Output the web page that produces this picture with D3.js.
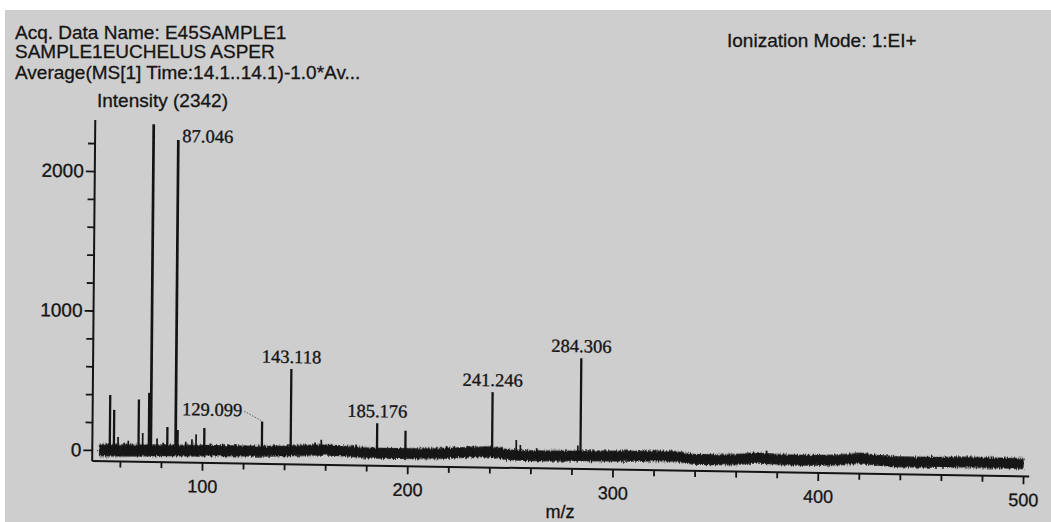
<!DOCTYPE html>
<html>
<head>
<meta charset="utf-8">
<script src="https://cdn.jsdelivr.net/npm/d3@7"></script>
<style>
  html, body { margin: 0; padding: 0; background: #ffffff; }
  svg { display: block; }
</style>
</head>
<body>
<svg id="chart" width="1051" height="522"></svg>
<script>
// ---- Text content ----
const headerLines = [
  "Acq. Data Name: E45SAMPLE1",
  "SAMPLE1EUCHELUS ASPER",
  "Average(MS[1] Time:14.1..14.1)-1.0*Av..."
];
const modeText = "Ionization Mode: 1:EI+";
const intensityTitle = "Intensity (2342)";
const xTitle = "m/z";

// ---- Centroided peaks: m/z and intensity ----
const peakMz = [55, 57, 59, 62, 64, 66, 69, 71, 74, 75, 78, 81, 83, 87.046, 88, 92, 95, 97, 101, 104, 107, 110,
  113, 116, 121, 129.099, 135, 143.118, 147, 155, 158, 165, 175, 183, 185.176, 199, 213, 219, 226, 232, 238,
  241.246, 253, 255, 263, 283, 284.306, 301, 375, 421];
const peakIntensity = [396, 290, 96, 55, 70, 50, 368, 128, 416, 2342, 90, 60, 174, 2232, 154, 70, 88, 124, 170, 60, 50, 60,
  55, 60, 50, 224, 60, 604, 55, 80, 100, 60, 70, 55, 225, 175, 50, 70, 55, 75, 70,
  462, 122, 86, 65, 90, 715, 55, 75, 70];

// Peaks carrying an m/z annotation
const labelMz = [87.046, 129.099, 143.118, 185.176, 241.246, 284.306];

// ---- Baseline noise band: centre level and half-spread every 10 m/z ----
const baseMz = [50, 60, 70, 80, 90, 100, 110, 120, 130, 140, 150, 160, 170, 180, 190, 200, 210, 220, 230, 240,
  250, 260, 270, 280, 290, 300, 310, 320, 330, 340, 350, 360, 370, 380, 390, 400, 410, 420, 430, 440, 450,
  460, 470, 480, 490, 500];
const baseMid = [0, 0, 3, 5, 6, 8, 9, 10, 12, 15, 22, 28, 22, 12, 10, 12, 14, 18, 28, 34,
  15, 11, 12, 14, 16, 18, 20, 22, 24, 4, 4, 8, 22, 14, 10, 12, 16, 32, 18, 10, 11,
  12, 16, 14, 14, 12];
const baseSpread = [42, 42, 40, 39, 38, 38, 37, 36, 36, 36, 37, 37, 36, 36, 36, 36, 36, 36, 36, 36,
  36, 36, 36, 36, 36, 36, 36, 36, 36, 36, 36, 36, 37, 36, 36, 36, 36, 37, 36, 36, 36,
  36, 36, 36, 36, 36];

// ---- Axis ticks ----
const xMajorTicks = [100, 200, 300, 400, 500];
const xMinorTicks = [60, 80, 120, 140, 160, 180, 220, 240, 260, 280, 320, 340, 360, 380, 420, 440, 460, 480];
const yMajorTicks = [0, 1000, 2000];
const yMinorTicks = [200, 400, 600, 800, 1200, 1400, 1600, 1800, 2200];

// ---- Layout ----
const W = 1051, H = 522;
const sansFont = "'Liberation Sans', Arial, Helvetica, sans-serif";
const serifFont = "'Liberation Serif', 'Times New Roman', Times, serif";
const ink = "#141414";

const svg = d3.select("#chart");

// roughened edge for the noise band
const defs = svg.append("defs");
const rough = defs.append("filter").attr("id", "rough")
  .attr("x", "-2%").attr("y", "-60%").attr("width", "104%").attr("height", "220%");
rough.append("feTurbulence").attr("type", "fractalNoise")
  .attr("baseFrequency", "0.7 0.3").attr("numOctaves", 2).attr("seed", 3).attr("result", "n");
rough.append("feDisplacementMap").attr("in", "SourceGraphic").attr("in2", "n")
  .attr("scale", 5).attr("xChannelSelector", "R").attr("yChannelSelector", "G");

// paper
svg.append("rect").attr("x", 0).attr("y", 0).attr("width", W).attr("height", H).attr("fill", "#ffffff");
svg.append("rect").attr("x", 5).attr("y", 10).attr("width", W - 5).attr("height", H - 10).attr("fill", "#cecece");

// scales (frame of the printed plot)
const x = d3.scaleLinear().domain([46.5, 503]).range([92.2, 1029.2]);
const y = d3.scaleLinear().domain([-79, 2366]).range([461, 120]);

// the printed sheet is slightly skewed
const ox = 93, oy = 461, skewDown = 0.0165, skewRight = 0.009;
const plot = svg.append("g")
  .attr("transform", `translate(${ox},${oy}) matrix(1,${skewDown},${-skewRight},1,0,0) translate(${-ox},${-oy})`);

// baseline noise band: solid core plus a roughened outer edge
const band = baseMz.map((m, i) => ({ mz: m, mid: baseMid[i], half: baseSpread[i] }));
plot.append("path")
  .datum(band)
  .attr("d", d3.area().x(d => x(d.mz)).y0(d => y(d.mid - d.half * 0.6)).y1(d => y(d.mid + d.half * 0.6)))
  .attr("fill", ink);
plot.append("path")
  .datum(band)
  .attr("d", d3.area().x(d => x(d.mz)).y0(d => y(d.mid - d.half)).y1(d => y(d.mid + d.half)))
  .attr("fill", ink)
  .attr("stroke", ink)
  .attr("stroke-width", 0.8)
  .attr("filter", "url(#rough)");

// peaks
const peaks = peakMz.map((m, i) => ({ mz: m, inten: peakIntensity[i] }));
plot.append("g").selectAll("line")
  .data(peaks)
  .join("line")
  .attr("x1", d => x(d.mz)).attr("x2", d => x(d.mz))
  .attr("y1", y(-10))
  .attr("y2", d => y(d.inten))
  .attr("stroke", ink)
  .attr("stroke-width", d => d.inten > 1000 ? 2.7 : (d.inten > 150 ? 2.3 : 1.7));

// axis lines
plot.append("line")
  .attr("x1", x(46.5)).attr("x2", x(46.5))
  .attr("y1", y(-79)).attr("y2", y(2366))
  .attr("stroke", ink).attr("stroke-width", 2);
plot.append("line")
  .attr("x1", x(46.5)).attr("x2", x(503))
  .attr("y1", y(-79)).attr("y2", y(-79))
  .attr("stroke", ink).attr("stroke-width", 2);

// y axis
const yAxisG = plot.append("g").attr("transform", `translate(${x(46.5)},0)`);
yAxisG.call(d3.axisLeft(y).tickValues(yMajorTicks).tickSize(9).tickPadding(2).tickFormat(d3.format("d")));
const yMinorG = plot.append("g").attr("transform", `translate(${x(46.5)},0)`);
yMinorG.call(d3.axisLeft(y).tickValues(yMinorTicks).tickSize(7).tickFormat(""));

// x axis
const xAxisG = plot.append("g").attr("transform", `translate(0,${y(-79)})`);
xAxisG.call(d3.axisBottom(x).tickValues(xMajorTicks).tickSize(8).tickPadding(9).tickFormat(d3.format("d")));
const xMinorG = plot.append("g").attr("transform", `translate(0,${y(-79)})`);
xMinorG.call(d3.axisBottom(x).tickValues(xMinorTicks).tickSize(6).tickFormat(""));

[yAxisG, yMinorG, xAxisG, xMinorG].forEach(g => {
  g.select(".domain").remove();
  g.selectAll(".tick line").attr("stroke", ink).attr("stroke-width", 1.8);
  g.selectAll(".tick text")
    .attr("fill", ink)
    .attr("stroke", ink)
    .attr("stroke-width", 0.3)
    .attr("font-family", sansFont);
});
yAxisG.selectAll(".tick text").attr("font-size", 19);
xAxisG.selectAll(".tick text").attr("font-size", 18);

// peak annotations
const labelled = peaks.filter(p => labelMz.includes(p.mz));
const labelG = plot.append("g")
  .attr("font-family", serifFont)
  .attr("font-size", 18.5)
  .attr("fill", ink)
  .attr("stroke", ink)
  .attr("stroke-width", 0.35);

labelled.forEach(p => {
  const px = x(p.mz), py = y(p.inten);
  const txt = d3.format(".3f")(p.mz);
  if (p.mz === 87.046) {
    labelG.append("text").attr("x", px + 4).attr("y", py + 2).attr("text-anchor", "start").text(txt);
  } else if (p.mz === 129.099) {
    labelG.append("text").attr("x", px - 20).attr("y", py - 5).attr("text-anchor", "end").text(txt);
    labelG.append("line")
      .attr("x1", px - 18).attr("y1", py - 10)
      .attr("x2", px - 1).attr("y2", py - 1)
      .attr("stroke", "#555").attr("stroke-width", 0.9)
      .attr("stroke-dasharray", "1.5,1.5");
  } else {
    labelG.append("text").attr("x", px).attr("y", py - 6).attr("text-anchor", "middle").text(txt);
  }
});

// header
const head = svg.append("g").attr("font-family", sansFont).attr("font-size", 19)
  .attr("fill", ink).attr("stroke", ink).attr("stroke-width", 0.3);
const headBaselines = [38.5, 57.5, 78.5];
headerLines.forEach((t, i) => {
  head.append("text").attr("x", 15).attr("y", headBaselines[i]).text(t);
});
head.append("text").attr("x", 727).attr("y", 47).text(modeText);
head.append("text").attr("x", 97).attr("y", 107).text(intensityTitle);

// x title
svg.append("text")
  .attr("x", 560).attr("y", 518)
  .attr("text-anchor", "middle")
  .attr("font-family", sansFont).attr("font-size", 18)
  .attr("fill", ink).attr("stroke", ink).attr("stroke-width", 0.3)
  .text(xTitle);
</script>
</body>
</html>
